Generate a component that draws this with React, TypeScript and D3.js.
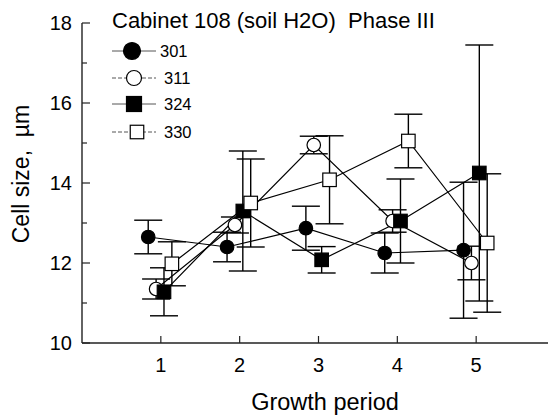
import React from "react";
import * as d3 from "d3";

// growth periods on the x axis
const periods = [1, 2, 3, 4, 5];
const xTicks = [1, 2, 3, 4, 5];
const yTicks = [10, 12, 14, 16, 18];
const yMinorTicks = [11, 13, 15, 17];

const seriesNames = ["301", "311", "324", "330"];
// horizontal jitter of each series, in period units
const jitter = [-0.16, -0.06, 0.04, 0.14];

const means301 = [12.65, 12.4, 12.87, 12.25, 12.32];
const err301 = [0.42, 0.37, 0.55, 0.5, 1.7];
const means311 = [11.35, 12.95, 14.95, 13.05, 12.0];
const err311 = [0.25, 0.2, 0.22, 0.28, 0.42];
const means324 = [11.28, 13.3, 12.08, 13.05, 14.25];
const err324 = [0.6, 1.5, 0.33, 1.05, 3.2];
const means330 = [11.98, 13.5, 14.08, 15.05, 12.5];
const err330 = [0.55, 1.1, 1.1, 0.67, 1.73];

const allMeans = [means301, means311, means324, means330];
const allErrs = [err301, err311, err324, err330];
const markerShape = ["circle", "circle", "square", "square"];
const markerFill = ["black", "white", "black", "white"];

const FONT = "'Liberation Sans', Arial, sans-serif";

function Marker({ cx, cy, shape, fill, size }) {
  if (shape === "circle") {
    return (
      <circle cx={cx} cy={cy} r={size / 2} fill={fill} stroke="black" strokeWidth={1.2} />
    );
  }
  return (
    <rect
      x={cx - size / 2}
      y={cy - size / 2}
      width={size}
      height={size}
      fill={fill}
      stroke="black"
      strokeWidth={1.2}
    />
  );
}

export default function App() {
  const width = 548;
  const height = 417;
  const plot = { left: 82, top: 23, bottom: 343, right: 555 };

  const xScale = d3.scaleLinear().domain([0, 6]).range([plot.left, plot.right]);
  const yScale = d3.scaleLinear().domain([10, 18]).range([plot.bottom, plot.top]);

  const line = d3
    .line<number[]>()
    .x((d) => xScale(d[0]))
    .y((d) => yScale(d[1]));

  const capHalf = 14;
  const markerSize = 13.5;

  const series = seriesNames.map((name, i) => ({
    name,
    shape: markerShape[i],
    fill: markerFill[i],
    points: periods.map((p, j) => ({
      x: p + jitter[i],
      y: allMeans[i][j],
      e: allErrs[i][j],
    })),
  }));

  const legendY = [51, 78, 104, 132];
  const legendMarkX = [132, 134, 134, 137];
  const legendMarkSize = [17, 15, 15, 13.5];

  return (
    <svg
      width={width}
      height={height}
      style={{ position: "absolute", left: 0, top: 0, background: "white" }}
      fontFamily={FONT}
    >
      {/* title */}
      <text x={112} y={28} fontSize={22} fill="black" style={{ whiteSpace: "pre" }}>
        Cabinet 108 (soil H2O)  Phase III
      </text>

      {/* axes */}
      <line x1={plot.left} y1={plot.top} x2={plot.left} y2={plot.bottom} stroke="#222" strokeWidth={1.4} />
      <line x1={plot.left} y1={plot.bottom} x2={width} y2={plot.bottom} stroke="#222" strokeWidth={1.4} />
      {yTicks.map((t) => (
        <g key={"y" + t}>
          <line x1={plot.left} x2={plot.left + 8} y1={yScale(t)} y2={yScale(t)} stroke="#222" strokeWidth={1.2} />
          <text x={72} y={yScale(t) + 7} textAnchor="end" fontSize={20}>
            {t}
          </text>
        </g>
      ))}
      {yMinorTicks.map((t) => (
        <line key={"ym" + t} x1={plot.left} x2={plot.left + 5} y1={yScale(t)} y2={yScale(t)} stroke="#222" strokeWidth={1.2} />
      ))}
      {xTicks.map((t) => (
        <g key={"x" + t}>
          <line x1={xScale(t)} x2={xScale(t)} y1={plot.bottom} y2={plot.bottom - 7} stroke="#222" strokeWidth={1.2} />
          <text x={xScale(t)} y={372} textAnchor="middle" fontSize={20}>
            {t}
          </text>
        </g>
      ))}
      <text x={325} y={410} textAnchor="middle" fontSize={23.5}>
        Growth period
      </text>
      <text
        transform={`translate(29, 174) rotate(-90)`}
        textAnchor="middle"
        fontSize={23}
        style={{ whiteSpace: "pre" }}
      >
        Cell size,  µm
      </text>

      {/* connecting lines */}
      {series.map((s) => (
        <path
          key={"l" + s.name}
          d={line(s.points.map((p) => [p.x, p.y]))}
          fill="none"
          stroke="black"
          strokeWidth={1.2}
        />
      ))}

      {/* error bars */}
      {series.map((s) =>
        s.points.map((p, j) => {
          const cx = xScale(p.x);
          const y1 = yScale(p.y + p.e);
          const y2 = yScale(p.y - p.e);
          return (
            <g key={"e" + s.name + j} stroke="black" strokeWidth={1.4}>
              <line x1={cx} x2={cx} y1={y1} y2={y2} />
              <line x1={cx - capHalf} x2={cx + capHalf} y1={y1} y2={y1} />
              <line x1={cx - capHalf} x2={cx + capHalf} y1={y2} y2={y2} />
            </g>
          );
        })
      )}

      {/* markers */}
      {series.map((s) =>
        s.points.map((p, j) => (
          <Marker
            key={"m" + s.name + j}
            cx={xScale(p.x)}
            cy={yScale(p.y)}
            shape={s.shape}
            fill={s.fill}
            size={markerSize}
          />
        ))
      )}

      {/* legend */}
      {series.map((s, i) => (
        <g key={"lg" + s.name}>
          <line
            x1={112}
            x2={156}
            y1={legendY[i]}
            y2={legendY[i]}
            stroke="#555"
            strokeWidth={1}
            strokeDasharray={i % 2 === 0 ? "none" : "4,2"}
          />
          <Marker cx={legendMarkX[i]} cy={legendY[i]} shape={s.shape} fill={s.fill} size={legendMarkSize[i]} />
          <text x={i === 0 ? 160 : 164} y={legendY[i] + 6} fontSize={16.5}>
            {s.name}
          </text>
        </g>
      ))}
    </svg>
  );
}
